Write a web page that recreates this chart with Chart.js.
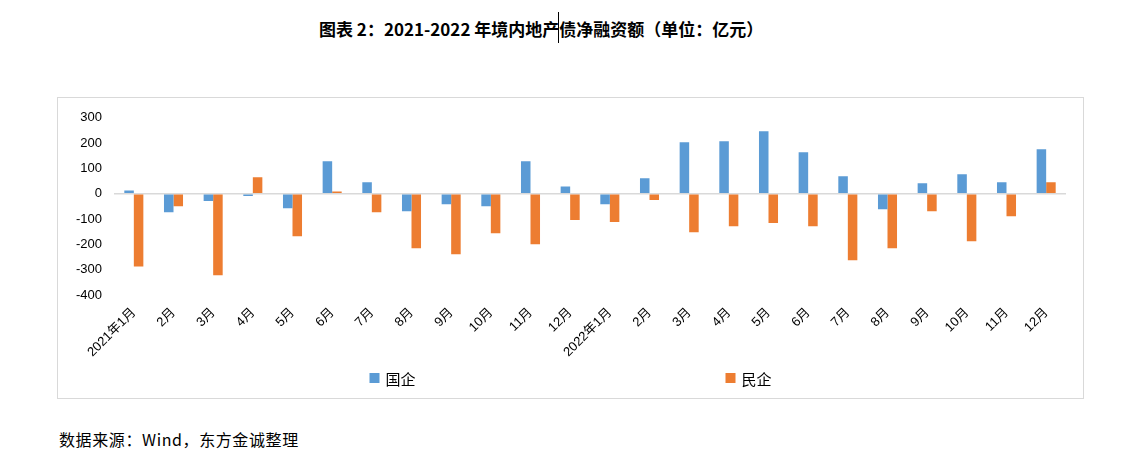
<!DOCTYPE html>
<html>
<head>
<meta charset="utf-8">
<script src="https://cdn.jsdelivr.net/npm/chart.js@4.4.1/dist/chart.umd.min.js"></script>
<style>
  body { margin: 0; background: #fff; width: 1145px; height: 473px; overflow: hidden; position: relative; }
  #title { position: absolute; left: 319px; top: 16px; font: bold 17px "Noto Sans CJK SC", sans-serif; color: #000; white-space: nowrap; }
  #caret { position: absolute; left: 558px; top: 12px; width: 1px; height: 31px; background: #000; }
  #box { position: absolute; left: 57px; top: 97px; width: 1025px; height: 300px; border: 1px solid #d9d9d9; }
  #source { position: absolute; left: 59px; top: 427px; font: 16px "Noto Sans CJK SC", sans-serif; color: #000; letter-spacing: 0.6px; white-space: nowrap; }
</style>
</head>
<body>
<div id="title">图表 2：2021-2022 年境内地产债净融资额（单位：亿元）</div>
<div id="caret"></div>
<div id="box"><canvas id="c" width="1025" height="300"></canvas></div>
<div id="source">数据来源：Wind，东方金诚整理</div>
<script>
// 月份
const months = ['2021年1月','2月','3月','4月','5月','6月','7月','8月','9月','10月','11月','12月',
                '2022年1月','2月','3月','4月','5月','6月','7月','8月','9月','10月','11月','12月'];
// 国企 净融资额（亿元）
const soe = [13, -73, -29, -9, -57, 128, 45, -69, -41, -49, 128, 29,
             -41, 61, 203, 207, 247, 164, 69, -61, 41, 77, 45, 176];
// 民企 净融资额（亿元）
const pe = [-287, -49, -322, 65, -168, 9, -73, -215, -239, -156, -199, -104,
            -112, -25, -152, -128, -116, -128, -263, -215, -69, -188, -89, 45];
const yTicks = [300, 200, 100, 0, -100, -200, -300, -400];

const tickFont = { family: '"Liberation Sans", "Noto Sans CJK SC", sans-serif', size: 13 };

// 图例：两项分得很开，自己画
const wideLegend = {
  id: 'wideLegend',
  afterDraw(chart) {
    const ctx = chart.ctx;
    const cx = chart.width / 2;
    const offs = [-201, 155];
    const y = 280;
    ctx.save();
    ctx.font = '15px "Noto Sans CJK SC", sans-serif';
    ctx.textBaseline = 'middle';
    chart.data.datasets.forEach((ds, i) => {
      const x = cx + offs[i];
      ctx.fillStyle = ds.backgroundColor;
      ctx.fillRect(x, y - 5, 10, 10);
      ctx.fillStyle = '#000';
      ctx.fillText(ds.label, x + 16, y + 1);
    });
    ctx.restore();
  }
};

new Chart(document.getElementById('c').getContext('2d'), {
  type: 'bar',
  data: {
    labels: months,
    datasets: [
      { label: '国企', data: soe, backgroundColor: '#5B9BD5', categoryPercentage: 0.48, barPercentage: 1 },
      { label: '民企', data: pe, backgroundColor: '#ED7D31', categoryPercentage: 0.48, barPercentage: 1 }
    ]
  },
  options: {
    responsive: false,
    animation: false,
    layout: { padding: { left: 0, right: 17, top: 13, bottom: 36 } },
    plugins: { legend: { display: false }, tooltip: { enabled: false } },
    scales: {
      x: {
        grid: { display: false },
        border: { display: false },
        ticks: { color: '#000', font: tickFont, minRotation: 45, maxRotation: 45, autoSkip: false, padding: 2 }
      },
      y: {
        min: -400, max: 300,
        afterFit: s => { s.width = 56; },
        afterBuildTicks: s => { s.ticks = yTicks.map(v => ({ value: v })); },
        border: { display: false },
        grid: {
          drawTicks: false,
          color: c => c.tick && c.tick.value === 0 ? '#d9d9d9' : 'rgba(0,0,0,0)',
          lineWidth: 1.6
        },
        ticks: { color: '#000', font: tickFont, padding: 12 }
      }
    }
  },
  plugins: [wideLegend]
});
</script>
</body>
</html>
